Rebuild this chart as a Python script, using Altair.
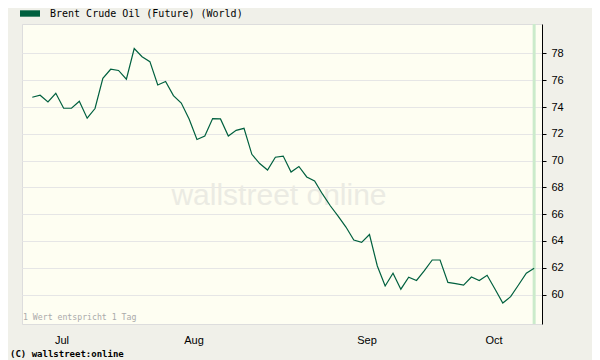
import altair as alt
import pandas as pd

# Brent Crude Oil (Future) daily values (one value per trading day)
prices = [74.73, 74.88, 74.38, 75.03, 73.91, 73.91, 74.43, 73.17, 73.89, 76.15,
          76.82, 76.73, 76.08, 78.37, 77.76, 77.39, 75.65, 75.91, 74.85, 74.30,
          73.11, 71.58, 71.84, 73.14, 73.11, 71.84, 72.26, 72.41, 70.47, 69.78,
          69.30, 70.25, 70.34, 69.15, 69.56, 68.78, 68.48, 67.51, 66.63, 65.86,
          65.04, 64.07, 63.90, 64.48, 62.13, 60.64, 61.59, 60.40, 61.29, 61.05,
          61.78, 62.58, 62.58, 60.91, 60.81, 60.70, 61.31, 61.05, 61.44, 60.41,
          59.37, 59.84, 60.71, 61.59, 61.96]
day_index = list(range(len(prices)))

# month boundaries (in trading-day index units) and month label positions
month_bounds = [8.76, 31.97, 52.88]
month_names = ["Jul", "Aug", "Sep", "Oct"]
month_label_pos = [3.79, 20.62, 42.68, 58.88]
y_ticks = [60, 62, 64, 66, 68, 70, 72, 74, 76, 78]

W, H = 520, 300
X_DOMAIN = [-1.31, 65.0]
Y_DOMAIN = [57.8, 80.2]
LINE_COLOR = "#00603F"

df = pd.DataFrame({"i": day_index, "v": prices})
xs = alt.Scale(domain=X_DOMAIN, nice=False, zero=False)
ys = alt.Scale(domain=Y_DOMAIN, nice=False, zero=False)

one = pd.DataFrame({"a": [0]})

watermark = alt.Chart(one).mark_text(
    text="wallstreet online", font="Liberation Sans", fontSize=30,
    color="#EBEBE3", align="center", baseline="middle"
).encode(x=alt.value(257), y=alt.value(172))

band = alt.Chart(pd.DataFrame({"i": [day_index[-1]]})).mark_rule(
    color="#CBEBCB", strokeWidth=3
).encode(x=alt.X("i:Q", scale=xs, axis=None))

line = alt.Chart(df).mark_line(color=LINE_COLOR, strokeWidth=1.2).encode(
    x=alt.X("i:Q", scale=xs, title=None,
            axis=alt.Axis(values=month_bounds, labels=False, grid=True,
                          gridColor="#E6E6E6", domainColor="#000000",
                          tickColor="#000000", tickSize=5, orient="bottom")),
    y=alt.Y("v:Q", scale=ys, title=None,
            axis=alt.Axis(values=y_ticks, orient="right", grid=True,
                          gridColor="#E6E6E6", domainColor="#000000",
                          tickColor="#000000", tickSize=4, labelPadding=5,
                          labelFont="Liberation Sans", labelFontSize=11,
                          labelColor="#000000", format="d")),
)

months = alt.Chart(pd.DataFrame({"m": month_names, "p": month_label_pos})).mark_text(
    font="Liberation Sans", fontSize=11, color="#000000", baseline="middle", align="center"
).encode(x=alt.X("p:Q", scale=xs, axis=None), y=alt.value(317), text="m:N")

note = alt.Chart(one).mark_text(
    text="1 Wert entspricht 1 Tag", font="DejaVu Sans Mono", fontSize=8.2,
    color="#AAAAAA", align="left", baseline="middle"
).encode(x=alt.value(1), y=alt.value(294))

copyright_ = alt.Chart(one).mark_text(
    text="(C) wallstreet:online", font="DejaVu Sans Mono", fontSize=9,
    fontWeight="bold", color="#000000", align="left", baseline="middle"
).encode(x=alt.value(-12), y=alt.value(329.5))

legend_box = alt.Chart(one).mark_rect(color=LINE_COLOR).encode(
    x=alt.value(-2), x2=alt.value(18), y=alt.value(-13.7), y2=alt.value(-7.3))

legend_text = alt.Chart(one).mark_text(
    text="Brent Crude Oil (Future) (World)", font="DejaVu Sans Mono", fontSize=10,
    color="#000000", align="left", baseline="middle"
).encode(x=alt.value(28), y=alt.value(-9.7))

chart = alt.layer(
    watermark, band, line, months, note, copyright_, legend_box, legend_text
).properties(
    width=W, height=H,
    autosize=alt.AutoSizeParams(type="none"),
    padding={"left": 14, "top": 16, "right": 50, "bottom": 36},
    background="#F0F0E9",
).configure_view(
    fill="#FEFEF2", stroke="#DDDDDD", strokeWidth=1
)

chart.save("out.html", embed_options={"renderer": "svg", "actions": False})
